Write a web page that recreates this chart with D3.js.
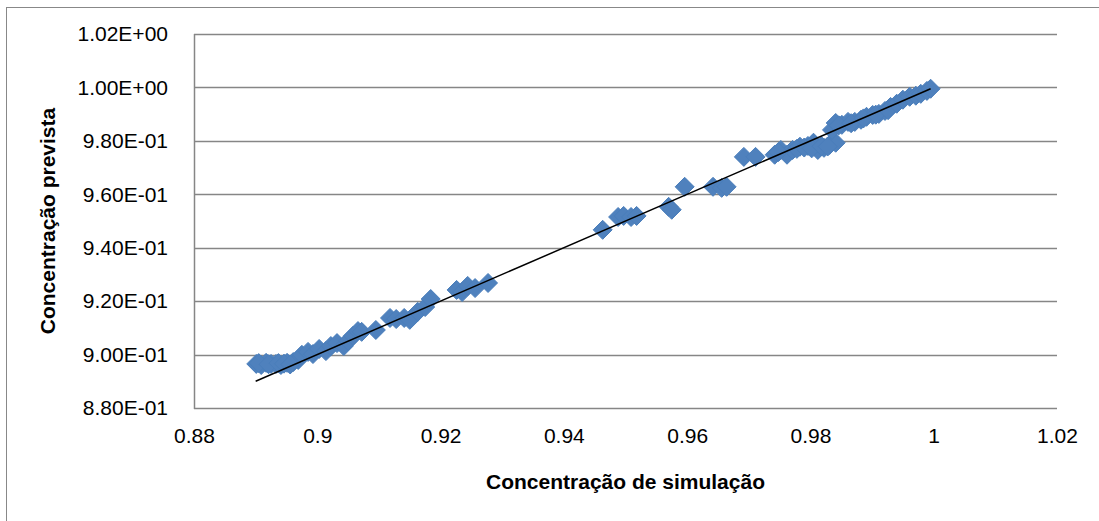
<!DOCTYPE html>
<html>
<head>
<meta charset="utf-8">
<script src="https://cdn.jsdelivr.net/npm/d3@7"></script>
<style>
  body { margin: 0; background: #fff; }
  svg { display: block; }
  .tick text { font-family: "Liberation Sans", Arial, sans-serif; font-size: 21px; fill: #000; }
  .axis-title { font-family: "Liberation Sans", Arial, sans-serif; font-size: 21px; font-weight: bold; fill: #000; }
</style>
</head>
<body>
<div id="chart"></div>
<script>
// simulated concentration (x) vs predicted concentration (y)
var simX = [0.8901, 0.8909, 0.8917, 0.8925, 0.8933, 0.8941, 0.8951, 0.8961, 0.8969,
  0.8905, 0.8921, 0.8937, 0.8946, 0.8956,
  0.8975, 0.8985, 0.8993, 0.9003, 0.9014, 0.9022, 0.9032, 0.9043, 0.905, 0.9058, 0.9066, 0.9072,
  0.9095, 0.9118, 0.9128, 0.9141, 0.915, 0.9163, 0.9175, 0.9184,
  0.9226, 0.9235, 0.9244, 0.9256, 0.9277,
  0.9463, 0.9488, 0.9497, 0.9509, 0.9518, 0.957, 0.9575, 0.9596, 0.9642, 0.9656, 0.9664, 0.9692, 0.9711,
  0.9742, 0.9752, 0.9762, 0.9771, 0.9783, 0.9796, 0.9805, 0.9812, 0.9822, 0.9831, 0.9841,
  0.9748, 0.9778, 0.979, 0.9802, 0.9818, 0.9828,
  0.9835, 0.9841, 0.9851, 0.9861, 0.9872, 0.9882, 0.9891, 0.9901, 0.9911, 0.9921, 0.993,
  0.9846, 0.9866, 0.9886, 0.9906, 0.9926,
  0.994, 0.995, 0.9961, 0.9971, 0.9979, 0.9989, 0.9995];
var predY = [0.8965, 0.8961, 0.8969, 0.8965, 0.8965, 0.8961, 0.8969, 0.8972, 0.898,
  0.8968, 0.8964, 0.8968, 0.8966, 0.8963,
  0.8999, 0.901, 0.9002, 0.9021, 0.9013, 0.9032, 0.9043, 0.9032, 0.9051, 0.907, 0.9088, 0.9085,
  0.9092, 0.9137, 0.9133, 0.9137, 0.913, 0.916, 0.9178, 0.9208,
  0.9242, 0.9234, 0.9257, 0.9249, 0.9268,
  0.9467, 0.9515, 0.9519, 0.9515, 0.9519, 0.9553, 0.9542, 0.9628, 0.9628, 0.9624, 0.9628, 0.974, 0.974,
  0.9748, 0.9766, 0.9748, 0.9766, 0.9778, 0.9781, 0.9793, 0.9766, 0.9774, 0.9785, 0.9793,
  0.9758, 0.977, 0.9775, 0.9772, 0.978, 0.9779,
  0.9841, 0.9867, 0.986, 0.9871, 0.9871, 0.9879, 0.989, 0.9897, 0.9901, 0.9912, 0.9927,
  0.9858, 0.9866, 0.9884, 0.9898, 0.9915,
  0.9939, 0.9954, 0.9965, 0.9969, 0.9976, 0.9987, 0.9995];

// trend line end points
var lineX = [0.89, 0.9995];
var lineY = [0.89, 0.9995];

var xTicks = [0.88, 0.9, 0.92, 0.94, 0.96, 0.98, 1, 1.02];
var xTickLabels = ["0.88", "0.9", "0.92", "0.94", "0.96", "0.98", "1", "1.02"];
var yTicks = [0.88, 0.9, 0.92, 0.94, 0.96, 0.98, 1, 1.02];
var yTickLabels = ["8.80E-01", "9.00E-01", "9.20E-01", "9.40E-01", "9.60E-01", "9.80E-01", "1.00E+00", "1.02E+00"];

var xTitle = "Concentração de simulação";
var yTitle = "Concentração prevista";

var width = 1099;
var height = 521;

// plot area edges
var plotLeft = 194, plotRight = 1057, plotTop = 34, plotBottom = 408;

var svg = d3.select("#chart")
  .append("svg")
  .attr("width", width)
  .attr("height", height);

// outer chart frame
svg.append("rect")
  .attr("x", 6.5)
  .attr("y", 7.5)
  .attr("width", width + 10)
  .attr("height", height + 10)
  .attr("fill", "#fff")
  .attr("stroke", "#888")
  .attr("stroke-width", 1);

var xScale = d3.scaleLinear().domain([0.88, 1.02]).range([plotLeft, plotRight]);
var yScale = d3.scaleLinear().domain([0.88, 1.02]).range([plotBottom, plotTop]);

// gridlines
svg.append("g")
  .selectAll("line")
  .data(yTicks)
  .enter()
  .append("line")
  .attr("x1", plotLeft)
  .attr("x2", plotRight)
  .attr("y1", function(d) { return Math.round(yScale(d)) + 0.5; })
  .attr("y2", function(d) { return Math.round(yScale(d)) + 0.5; })
  .attr("stroke", "#868686")
  .attr("stroke-width", 1.5);

// left axis line
svg.append("line")
  .attr("x1", plotLeft + 0.5)
  .attr("x2", plotLeft + 0.5)
  .attr("y1", plotTop)
  .attr("y2", plotBottom + 1)
  .attr("stroke", "#868686")
  .attr("stroke-width", 1.5);

// x axis
var xAxis = d3.axisBottom(xScale)
  .tickValues(xTicks)
  .tickSize(0)
  .tickPadding(20)
  .tickFormat(function(d, i) { return xTickLabels[i]; });

svg.append("g")
  .attr("transform", "translate(0," + plotBottom + ")")
  .call(xAxis)
  .call(function(g) { g.select(".domain").remove(); });

// y axis
var yAxis = d3.axisLeft(yScale)
  .tickValues(yTicks)
  .tickSize(0)
  .tickPadding(26)
  .tickFormat(function(d, i) { return yTickLabels[i]; });

svg.append("g")
  .attr("transform", "translate(" + plotLeft + ",0)")
  .call(yAxis)
  .call(function(g) { g.select(".domain").remove(); });

// points
var diamond = "M0,-9.5L9.5,0L0,9.5L-9.5,0Z";
svg.append("g")
  .selectAll("path")
  .data(simX)
  .enter()
  .append("path")
  .attr("d", diamond)
  .attr("transform", function(d, i) {
    return "translate(" + xScale(d) + "," + yScale(predY[i]) + ")";
  })
  .attr("fill", "#4F81BD")
  .attr("stroke", "#4a7ebb")
  .attr("stroke-width", 1);

// trend line
var line = d3.line()
  .x(function(d) { return xScale(d[0]); })
  .y(function(d) { return yScale(d[1]); });

svg.append("path")
  .datum(d3.zip(lineX, lineY))
  .attr("d", line)
  .attr("fill", "none")
  .attr("stroke", "#000")
  .attr("stroke-width", 1.5);

// axis titles
svg.append("text")
  .attr("class", "axis-title")
  .attr("x", (plotLeft + plotRight) / 2)
  .attr("y", 489)
  .attr("text-anchor", "middle")
  .text(xTitle);

svg.append("text")
  .attr("class", "axis-title")
  .attr("transform", "translate(55," + (plotTop + plotBottom) / 2 + ")rotate(-90)")
  .attr("text-anchor", "middle")
  .text(yTitle);
</script>
</body>
</html>
